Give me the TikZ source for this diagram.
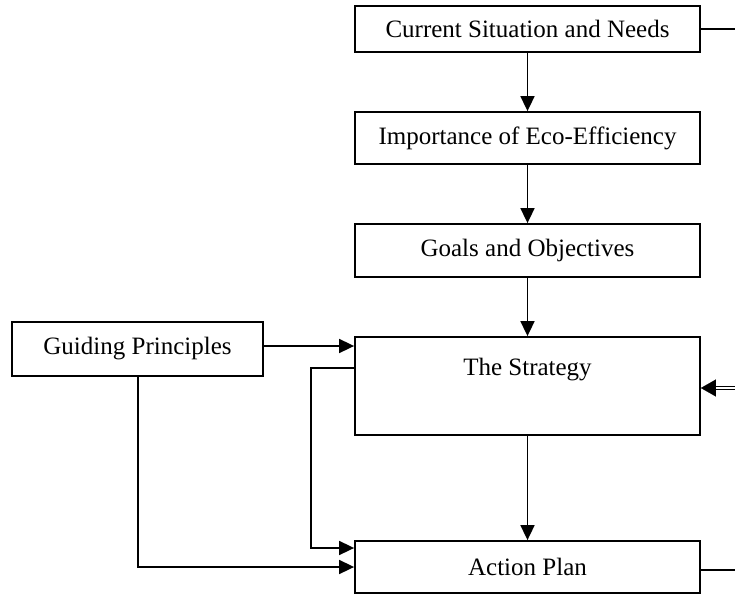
\documentclass[tikz,border=0pt]{standalone}
\usepackage{fontspec}
\setmainfont{Liberation Serif}
\usetikzlibrary{arrows.meta}
\begin{document}
\begin{tikzpicture}[x=1pt,y=-1pt,
  box/.style={draw=black,line width=1.8pt,minimum width=345pt,inner sep=0pt,anchor=center,font=\fontsize{25}{29}\selectfont},
  conn/.style={draw=black,line width=1.7pt},
  arr/.style={conn,-{Triangle[length=15pt,width=14pt]}},
  lbl/.style={inner sep=0pt,font=\fontsize{25}{29}\selectfont}]
\useasboundingbox (0,0) rectangle (735,596);
\node[box,minimum height=46pt] (cs) at (527.5,29) {Current Situation and Needs};
\node[box,minimum height=52pt] (ie) at (527.5,138) {Importance of Eco-Efficiency};
\node[box,minimum height=53pt] (go) at (527.5,250.5) {Goals and Objectives};
\node[box,minimum width=251pt,minimum height=54pt] (gp) at (137.5,349) {Guiding Principles};
\node[box,minimum height=98pt] (st) at (527.5,386) {};
\node[lbl] (stl) at (527.5,370) {The Strategy};
\node[box,minimum height=52pt] (ap) at (527.5,567) {Action Plan};
\coordinate (rtop) at (735,29);
\coordinate (rmid) at (735,388);
\coordinate (rbot) at (735,570);
\coordinate (bend1) at (311,368);
\coordinate (bend2) at (311,548);
\coordinate (bend3) at (138,567);
\draw[arr] (cs) -- (ie);
\draw[arr] (ie) -- (go);
\draw[arr] (go) -- (st);
\draw[arr] (st) -- (ap);
\draw[arr] (gp.east |- 0,346) -- (st.west |- 0,346);
\draw[arr] (st.west |- bend1) -- (bend1) -- (bend2) -- (ap.west |- bend2);
\draw[arr] (gp.south -| bend3) -- (bend3) -- (ap.west |- bend3);
\draw[conn] (cs.east) -- (rtop);
\draw[conn] (ap.east |- rbot) -- (rbot);
\draw[line width=1.1pt,double=white,double distance=2pt] (rmid) -- ([xshift=12pt]st.east |- rmid);
\draw[line width=0.1pt,-{Triangle[length=15pt,width=17pt]}] ([xshift=14pt]st.east |- rmid) -- (st.east |- rmid);
\end{tikzpicture}
\end{document}
